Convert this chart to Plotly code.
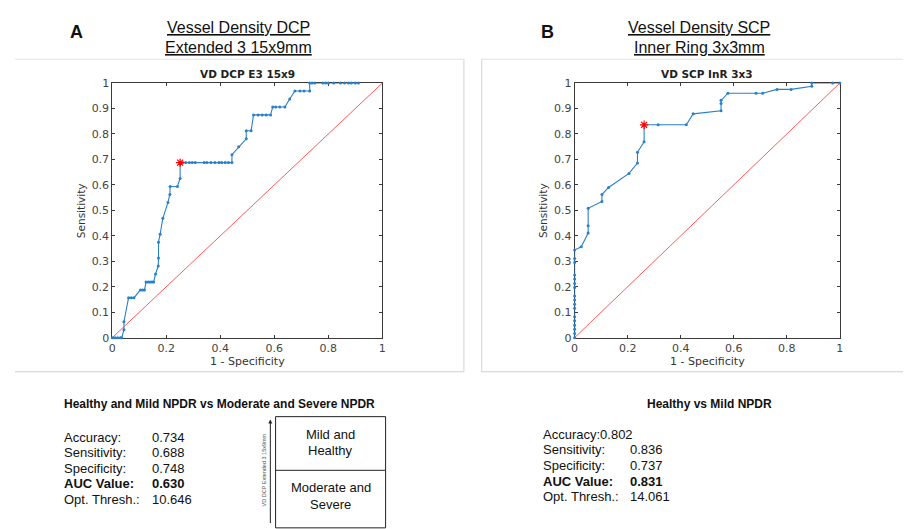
import plotly.graph_objects as go

W, H = 907, 529

# ---------------- data ----------------
dcp_fpr = [0, 0.01, 0.02, 0.03, 0.035, 0.043, 0.043, 0.06, 0.07, 0.08, 0.104, 0.112, 0.119,
           0.125, 0.133, 0.14, 0.147, 0.153, 0.16, 0.17, 0.171, 0.171, 0.177, 0.187, 0.206,
           0.213, 0.214, 0.241, 0.251, 0.251,
           0.26, 0.272, 0.285, 0.296, 0.307, 0.34, 0.35, 0.365, 0.38, 0.395, 0.405, 0.418,
           0.43, 0.443, 0.443, 0.468, 0.496, 0.496, 0.514, 0.523, 0.54, 0.555, 0.57, 0.586,
           0.594, 0.605, 0.62, 0.639, 0.657, 0.676, 0.695, 0.71, 0.731, 0.731, 0.74, 0.75,
           0.78, 0.79, 0.8, 0.82, 0.845, 0.86, 0.875, 0.885, 0.9, 0.912]
dcp_tpr = [0, 0, 0, 0, 0, 0.03125, 0.0625, 0.15625, 0.15625, 0.15625, 0.1875, 0.1875, 0.1875,
           0.21875, 0.21875, 0.21875, 0.21875, 0.21875, 0.25, 0.28125, 0.3125, 0.375, 0.40625,
           0.46875, 0.53125, 0.5625, 0.59375, 0.59375, 0.625, 0.6875,
           0.6875, 0.6875, 0.6875, 0.6875, 0.6875, 0.6875, 0.6875, 0.6875, 0.6875, 0.6875,
           0.6875, 0.6875, 0.6875, 0.6875, 0.71875, 0.75, 0.78125, 0.8125, 0.8125, 0.875,
           0.875, 0.875, 0.875, 0.875, 0.90625, 0.90625, 0.90625, 0.90625, 0.9375, 0.96875,
           0.96875, 0.96875, 0.96875, 1, 1, 1, 1, 1, 1, 1, 1, 1, 1, 1, 1, 1]
dcp_opt = (0.251, 0.6875)

scp_fpr = [0, 0, 0, 0, 0, 0, 0, 0, 0, 0, 0, 0, 0, 0, 0, 0, 0,
           0.025, 0.051, 0.051, 0.051, 0.103, 0.103, 0.128, 0.205, 0.237, 0.237, 0.262, 0.262,
           0.315, 0.421, 0.447, 0.552, 0.552, 0.552, 0.578, 0.684, 0.709, 0.763, 0.816,
           0.894, 0.894, 0.973, 1.0]
scp_tpr = [0, 0.016, 0.033, 0.049, 0.066, 0.082, 0.115, 0.131, 0.148, 0.164, 0.197, 0.213,
           0.23, 0.246, 0.295, 0.311, 0.344,
           0.357, 0.411, 0.44, 0.508, 0.535, 0.562, 0.59, 0.645, 0.686, 0.728, 0.769, 0.836,
           0.836, 0.836, 0.879, 0.891, 0.92, 0.932, 0.96, 0.96, 0.96, 0.975, 0.975,
           0.987, 1.0, 1.0, 1.0]
scp_opt = (0.262, 0.836)

x_ticks = [0, 0.2, 0.4, 0.6, 0.8, 1]
x_tick_labels = ["0", "0.2", "0.4", "0.6", "0.8", "1"]
y_ticks = [0, 0.1, 0.2, 0.3, 0.4, 0.5, 0.6, 0.7, 0.8, 0.9, 1]
y_tick_labels = ["0", "0.1", "0.2", "0.3", "0.4", "0.5", "0.6", "0.7", "0.8", "0.9", "1"]

stat_labels = ["Accuracy:", "Sensitivity:", "Specificity:", "<b>AUC Value:</b>", "Opt. Thresh.:"]
dcp_stats = ["0.734", "0.688", "0.748", "<b>0.630</b>", "10.646"]
scp_stats = ["0.802", "0.836", "0.737", "<b>0.831</b>", "14.061"]

# ---------------- helpers ----------------
def X(px):
    return px / W

def Y(py):
    return 1 - py / H

BLUE = "#2a80c8"
RED = "#ff5a5a"
AX = "#3a3a3a"

fig = go.Figure()

def add_roc(fpr, tpr, opt, xa, ya):
    fig.add_trace(go.Scatter(x=[0, 1], y=[0, 1], mode="lines", xaxis=xa, yaxis=ya,
                             line=dict(color=RED, width=1), showlegend=False, hoverinfo="skip"))
    fig.add_trace(go.Scatter(x=fpr, y=tpr, mode="lines+markers", xaxis=xa, yaxis=ya,
                             line=dict(color=BLUE, width=1.1),
                             marker=dict(color=BLUE, size=3), cliponaxis=False,
                             showlegend=False))
    fig.add_trace(go.Scatter(x=[opt[0]], y=[opt[1]], mode="markers", xaxis=xa, yaxis=ya,
                             marker=dict(symbol="asterisk-open", size=7, color="red",
                                         line=dict(color="red", width=1.2)),
                             cliponaxis=False, showlegend=False))

add_roc(dcp_fpr, dcp_tpr, dcp_opt, "x", "y")
add_roc(scp_fpr, scp_tpr, scp_opt, "x2", "y2")

axis_common = dict(range=[0, 1], showline=True, mirror="ticks", ticks="inside", ticklen=3,
                   linecolor=AX, linewidth=1, tickcolor=AX, showgrid=False, zeroline=False,
                   tickfont=dict(family="DejaVu Sans", size=11, color="#444"),
                   layer="below traces", fixedrange=True)

ydom = [Y(340), Y(79)]
fig.update_layout(
    width=W, height=H, margin=dict(l=0, r=0, t=0, b=0),
    paper_bgcolor="white", plot_bgcolor="white",
    xaxis=dict(domain=[X(109.3), X(381.7)], anchor="y", tickvals=x_ticks,
               ticktext=x_tick_labels, **axis_common),
    yaxis=dict(domain=ydom, anchor="x", tickvals=y_ticks, ticktext=y_tick_labels,
               **axis_common),
    xaxis2=dict(domain=[X(575.7), X(843.3)], anchor="y2", tickvals=x_ticks,
                ticktext=x_tick_labels, **axis_common),
    yaxis2=dict(domain=ydom, anchor="x2", tickvals=y_ticks, ticktext=y_tick_labels,
                **axis_common),
)

ann = []

def txt(x, y, s, size, bold=False, family="Liberation Sans", color="#111",
        xanchor="center", angle=0):
    ann.append(dict(x=X(x), y=Y(y), xref="paper", yref="paper", text=(f"<b>{s}</b>" if bold else s),
                    showarrow=False, xanchor=xanchor, yanchor="middle", textangle=angle,
                    font=dict(family=family, size=size, color=color)))

# headings
txt(72.7, 27, "A", 18, bold=True)
txt(548.3, 27, "B", 18, bold=True)
txt(237, 22.5, "<u>Vessel Density DCP</u>", 16)
txt(237, 42.5, "<u>Extended 3 15x9mm</u>", 16)
txt(701.5, 22.5, "<u>Vessel Density SCP</u>", 16)
txt(701.5, 42.5, "<u>Inner Ring 3x3mm</u>", 16)

# plot titles and axis labels
txt(245.5, 70, "VD DCP E3 15x9", 10.5, bold=True, family="DejaVu Sans", color="#222")
txt(709.5, 70, "VD SCP InR 3x3", 10.5, bold=True, family="DejaVu Sans", color="#222")
txt(78, 210, "Sensitivity", 10.5, family="DejaVu Sans", color="#333", angle=-90)
txt(544, 210, "Sensitivity", 10.5, family="DejaVu Sans", color="#333", angle=-90)
txt(246, 364, "1 - Specificity", 11, family="DejaVu Sans", color="#333")
txt(710, 364, "1 - Specificity", 11, family="DejaVu Sans", color="#333")

# bottom stats
txt(59, 408, "Healthy and Mild NPDR vs Moderate and Severe NPDR", 12, bold=True, xanchor="left")
ys_left = [442, 458, 474, 490, 506]
for lab, val, yy in zip(stat_labels, dcp_stats, ys_left):
    txt(59, yy, lab, 13, xanchor="left")
    txt(147, yy, val, 13, xanchor="left")

txt(712, 408, "Healthy vs Mild NPDR", 12, bold=True)
ys_right = [439, 455, 471, 487, 503]
for i, (lab, val, yy) in enumerate(zip(stat_labels, scp_stats, ys_right)):
    if i == 0:
        txt(541.5, yy, lab + val, 13, xanchor="left")
    else:
        txt(541.5, yy, lab, 13, xanchor="left")
        txt(630, yy, val, 13, xanchor="left")

# box diagram
txt(329.5, 439, "Mild and", 13)
txt(329.5, 456, "Healthy", 13)
txt(329.5, 494, "Moderate and", 13)
txt(329.5, 511, "Severe", 13)
txt(262.5, 476, "VD DCP Extended 3 15x9mm", 5.5, color="#555", angle=-90)
ann.append(dict(x=X(268.7), y=Y(424), xref="paper", yref="paper", ax=0, ay=105,
                text="", showarrow=True, arrowhead=2, arrowsize=0.8, arrowwidth=1,
                arrowcolor="#222"))

fig.update_layout(annotations=ann)

shapes = []

def line(x0, y0, x1, y1, color, width=1):
    shapes.append(dict(type="line", xref="paper", yref="paper", x0=X(x0), y0=Y(y0),
                       x1=X(x1), y1=Y(y1), line=dict(color=color, width=width)))

# panel borders
line(11, 54.5, 464, 54.5, "#e3e3e3")
line(464, 54.5, 464, 375, "#d4d4d4")
line(11, 375, 464, 375, "#cfcfcf")
line(482, 54.5, 907, 54.5, "#e3e3e3")
line(482, 54.5, 482, 375, "#d4d4d4")
line(482, 375, 907, 375, "#cfcfcf")

# diagram box
shapes.append(dict(type="rect", xref="paper", yref="paper", x0=X(274), y0=Y(535),
                   x1=X(385), y1=Y(421), line=dict(color="#222", width=1)))
line(274, 476, 385, 476, "#222")

fig.update_layout(shapes=shapes)

fig.write_html("out.html")
